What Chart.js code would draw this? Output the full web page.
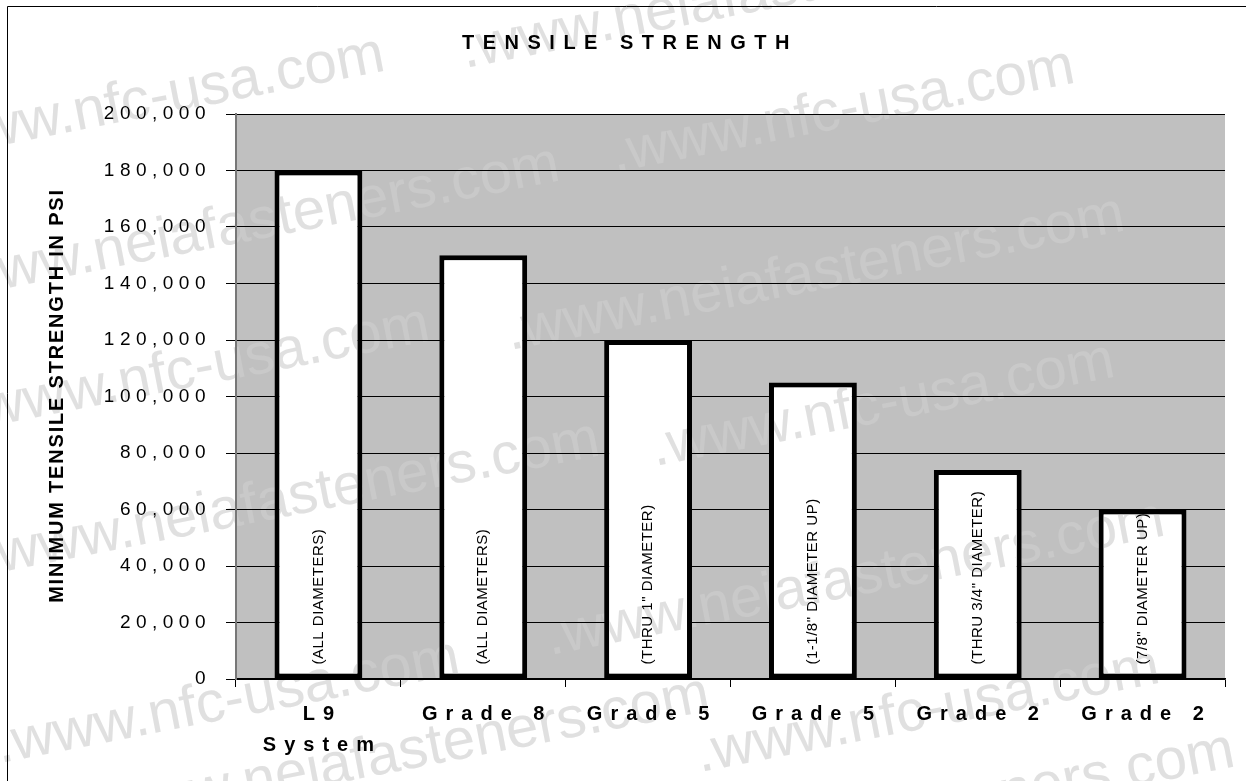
<!DOCTYPE html>
<html>
<head>
<meta charset="utf-8">
<title>Tensile Strength</title>
<script src="https://cdn.jsdelivr.net/npm/chart.js@4.4.1/dist/chart.umd.min.js"></script>
<style>
  html, body { margin: 0; padding: 0; background: #fff; }
</style>
</head>
<body>
<canvas id="tensileChart" width="1246" height="781"></canvas>
<script>
const categories = [['L9', 'System'], 'Grade 8', 'Grade 5', 'Grade 5', 'Grade 2', 'Grade 2'];
const minTensilePsi = [180000, 150000, 120000, 105000, 74000, 60000];
const sizeNotes = ['(ALL DIAMETERS)', '(ALL DIAMETERS)', '(THRU 1" DIAMETER)', '(1-1/8" DIAMETER UP)', '(THRU 3/4" DIAMETER)', '(7/8" DIAMETER UP)'];
const yTickValues = [0, 20000, 40000, 60000, 80000, 100000, 120000, 140000, 160000, 180000, 200000];

const chartTitle = 'TENSILE STRENGTH';
const yAxisTitle = 'MINIMUM TENSILE STRENGTH IN PSI';

const FONT = "'Liberation Sans', Arial, sans-serif";

// site watermarks stamped over the picture: text, start x, baseline y
const watermarks = [
  ['.www.nfc-usa.com', -75, 160],
  ['.www.neiafasteners.com', 465, 68],
  ['.www.nfc-usa.com', 615, 172],
  ['.www.neiafasteners.com', -55, 300],
  ['.www.neiafasteners.com', 510, 350],
  ['.www.nfc-usa.com', -30, 430],
  ['.www.nfc-usa.com', 655, 466],
  ['.www.neiafasteners.com', -15, 575],
  ['.www.neiafasteners.com', 550, 655],
  ['.www.nfc-usa.com', 0, 763],
  ['.www.nfc-usa.com', 700, 772],
  ['.www.neiafasteners.com', 95, 830],
  ['.www.neiafasteners.com', 620, 886]
];

function spacing(ctx, px) {
  if ('letterSpacing' in ctx) ctx.letterSpacing = px + 'px';
}

function drawWatermarks(ctx, color) {
  ctx.save();
  spacing(ctx, 0);
  ctx.fillStyle = color;
  ctx.font = '58px ' + FONT;
  ctx.textAlign = 'left';
  ctx.textBaseline = 'alphabetic';
  watermarks.forEach(([text, x, y]) => {
    ctx.save();
    ctx.translate(x, y);
    ctx.rotate(-11 * Math.PI / 180);
    ctx.fillText(text, 0, 0);
    ctx.restore();
  });
  ctx.restore();
}

const decor = {
  id: 'decor',
  beforeDraw(chart) {
    const { ctx, chartArea: a, width, height } = chart;
    ctx.save();
    ctx.fillStyle = '#fff';
    ctx.fillRect(0, 0, width, height);
    ctx.fillStyle = '#c0c0c0';
    ctx.fillRect(a.left, a.top, a.right - a.left, a.bottom - a.top);
    ctx.beginPath();
    ctx.rect(a.left, a.top, a.right - a.left, a.bottom - a.top);
    ctx.clip();
    drawWatermarks(ctx, '#c9c9c9');
    ctx.restore();
    spacing(ctx, 5.5); // y tick labels
  },
  afterDatasetsDraw(chart) {
    const { ctx } = chart;
    const meta = chart.getDatasetMeta(0);
    ctx.save();
    spacing(ctx, 0.5);
    ctx.font = '15px ' + FONT;
    ctx.fillStyle = '#000';
    ctx.textAlign = 'left';
    ctx.textBaseline = 'middle';
    meta.data.forEach((bar, i) => {
      ctx.save();
      ctx.translate(bar.x, bar.base - 14);
      ctx.rotate(-Math.PI / 2);
      ctx.fillText(sizeNotes[i], 0, 0);
      ctx.restore();
    });
    ctx.restore();
    spacing(ctx, 8); // x category labels
  },
  afterDraw(chart) {
    const { ctx, chartArea: a } = chart;
    spacing(ctx, 0);
    ctx.save();
    ctx.fillStyle = '#000';
    ctx.textAlign = 'center';

    ctx.font = 'bold 20px ' + FONT;
    spacing(ctx, 8.5);
    ctx.textBaseline = 'alphabetic';
    ctx.fillText(chartTitle, 626 + 4, 49);

    ctx.save();
    ctx.font = 'bold 20px ' + FONT;
    spacing(ctx, 1.8);
    ctx.textBaseline = 'middle';
    ctx.translate(57, (a.top + a.bottom) / 2);
    ctx.rotate(-Math.PI / 2);
    ctx.fillText(yAxisTitle, 1, 0);
    ctx.restore();

    spacing(ctx, 0);
    ctx.strokeStyle = '#000';
    ctx.lineWidth = 1;
    ctx.beginPath();
    ctx.moveTo(7.5, 781);
    ctx.lineTo(7.5, 6.5);
    ctx.lineTo(1246, 6.5);
    ctx.stroke();

    ctx.globalCompositeOperation = 'darken';
    drawWatermarks(ctx, '#e0e0e0');
    ctx.restore();
  }
};

new Chart(document.getElementById('tensileChart'), {
  type: 'bar',
  data: {
    labels: categories,
    datasets: [{
      label: 'Minimum tensile strength (psi)',
      data: minTensilePsi,
      backgroundColor: '#fff',
      borderColor: '#000',
      borderWidth: 5,
      borderSkipped: false,
      barPercentage: 0.533,
      categoryPercentage: 1
    }]
  },
  options: {
    responsive: false,
    animation: false,
    devicePixelRatio: 1,
    layout: { padding: { top: 114, right: 21, bottom: 0, left: 0 } },
    plugins: {
      legend: { display: false },
      title: { display: false },
      tooltip: { enabled: false }
    },
    scales: {
      x: {
        offset: true,
        grid: { offset: true, drawOnChartArea: false, drawTicks: true, tickLength: 8, color: '#000', lineWidth: 1 },
        border: { color: '#000', width: 1.5 },
        ticks: {
          z: 1,
          color: '#000',
          font: { family: FONT, size: 20, weight: 'bold', lineHeight: 1.55 },
          padding: 12,
          maxRotation: 0,
          autoSkip: false,
          labelOffset: 4
        },
        afterFit: s => { s.height = 102; }
      },
      y: {
        min: 0,
        max: 200000,
        afterBuildTicks: s => { s.ticks = yTickValues.map(v => ({ value: v })); },
        grid: { color: '#000', lineWidth: 1, tickLength: 10, tickColor: '#000' },
        border: { color: '#777', width: 2 },
        ticks: {
          color: '#000',
          font: { family: FONT, size: 19 },
          padding: 15,
          callback: v => v.toLocaleString('en-US')
        },
        afterFit: s => { s.width = 236; }
      }
    }
  },
  plugins: [decor]
});
</script>
</body>
</html>
